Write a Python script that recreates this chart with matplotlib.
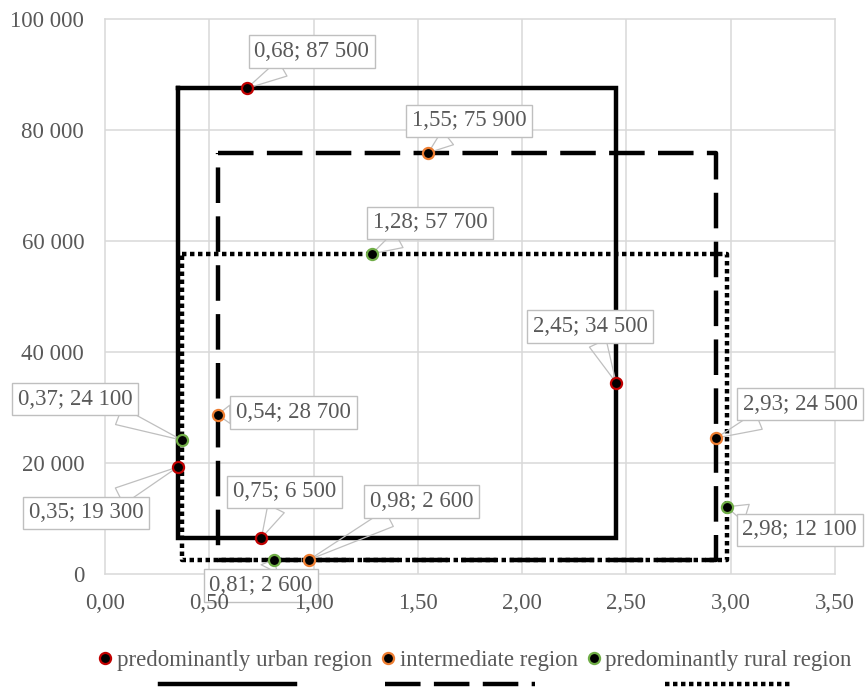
import matplotlib
matplotlib.use('Agg')
import matplotlib.pyplot as plt
from matplotlib.lines import Line2D

# ---------------- data ----------------
series_names = ['predominantly urban region', 'intermediate region', 'predominantly rural region']
urban_x = [0.68, 2.45, 0.75, 0.35]
urban_y = [87500, 34500, 6500, 19300]
inter_x = [1.55, 2.93, 0.98, 0.54]
inter_y = [75900, 24500, 2600, 28700]
rural_x = [1.28, 2.98, 0.81, 0.37]
rural_y = [57700, 12100, 2600, 24100]

x_ticks = [0.0, 0.5, 1.0, 1.5, 2.0, 2.5, 3.0, 3.5]
x_tick_labels = ['0,00', '0,50', '1,00', '1,50', '2,00', '2,50', '3,00', '3,50']
y_ticks = [0, 20000, 40000, 60000, 80000, 100000]
y_tick_labels = ['0', '20 000', '40 000', '60 000', '80 000', '100 000']

# ---------------- styles / layout ----------------
edge_colors = ['#C00000', '#ED7D31', '#70AD47']
line_styles = ['-', (0, (8, 3)), (0, (1, 0.8))]
TXT = '#595959'
GRID = '#d9d9d9'
FS = 16.5
FONT = ['Liberation Serif', 'DejaVu Serif']
LW = 3.2

# label offsets (pixels) from each point to its label box centre
label_offsets = [
    [(65, 37), (-26, 56), (23, 46), (-92, -46)],
    [(41, 32), (84, 34), (112, 58), (76, 2)],
    [(58, 31), (73, -23), (-13, -26), (-107, 41)],
]

plt.rcParams['font.family'] = FONT

fig = plt.figure(figsize=(8.65, 6.88), dpi=100)
ax = fig.add_axes([105 / 865, 1 - 574 / 688, 730 / 865, 555 / 688])
ax.set_xlim(0, 3.5)
ax.set_ylim(0, 100000)

# grid
for xt in x_ticks[1:-1]:
    ax.axvline(xt, color=GRID, lw=1.1, zorder=0.5)
for yt in y_ticks[1:-1]:
    ax.axhline(yt, color=GRID, lw=1.1, zorder=0.5)
for s in ax.spines.values():
    s.set_color(GRID)
    s.set_linewidth(1.1)

ax.set_xticks(x_ticks)
ax.set_xticklabels(x_tick_labels)
ax.set_yticks(y_ticks)
ax.set_yticklabels(y_tick_labels)
ax.tick_params(length=0, labelsize=FS, labelcolor=TXT)
ax.tick_params(axis='x', pad=14)
ax.tick_params(axis='y', pad=15)
ax.xaxis.set_zorder(6)
ax.yaxis.set_zorder(6)

xs = [urban_x, inter_x, rural_x]
ys = [urban_y, inter_y, rural_y]

# rectangles enclosing each series
for i in range(3):
    x0, x1 = min(xs[i]), max(xs[i])
    y0, y1 = min(ys[i]), max(ys[i])
    ax.plot([x0, x1, x1, x0, x0], [y1, y1, y0, y0, y1], color='black',
            lw=LW, linestyle=line_styles[i], dash_capstyle='butt',
            solid_joinstyle='miter', zorder=2)

def fmt(x, y):
    return f"{x:.2f}".replace('.', ',') + '; ' + f"{y:,}".replace(',', ' ')

handles = []
for i in range(3):
    h, = ax.plot(xs[i], ys[i], linestyle='none', marker='o', markersize=8,
                 markerfacecolor='black', markeredgecolor=edge_colors[i],
                 markeredgewidth=1.6, zorder=5, label=series_names[i])
    handles.append(h)
    for j, (x, y) in enumerate(zip(xs[i], ys[i])):
        dx, dy = label_offsets[i][j]
        ax.annotate(fmt(x, y), xy=(x, y), xytext=(dx, dy),
                    textcoords='offset pixels', ha='center', va='center',
                    fontsize=FS, color=TXT, zorder=4, annotation_clip=False,
                    bbox=dict(boxstyle='square,pad=0.25', fc='white', ec='#bfbfbf', lw=1),
                    arrowprops=dict(arrowstyle='wedge,tail_width=0.8,shrink_factor=0.5',
                                    fc='none', ec='#bfbfbf', lw=0.9,
                                    shrinkA=0, shrinkB=0))

leg = fig.legend(handles, series_names, loc='center',
                 bbox_to_anchor=(475 / 865, 1 - 660 / 688), ncol=3, frameon=False,
                 handletextpad=0.2, columnspacing=0.4, handlelength=0.6,
                 borderaxespad=0, borderpad=0, fontsize=FS, labelcolor=TXT)

# line samples under legend entries
ly = 1 - 684 / 688
for (a, b), ls in zip([(160, 295), (385, 535), (665, 790)], line_styles):
    fig.add_artist(Line2D([a / 865, b / 865], [ly, ly], transform=fig.transFigure,
                          color='black', lw=LW, linestyle=ls, dash_capstyle='butt'))

fig.savefig('out.png', dpi=100)
